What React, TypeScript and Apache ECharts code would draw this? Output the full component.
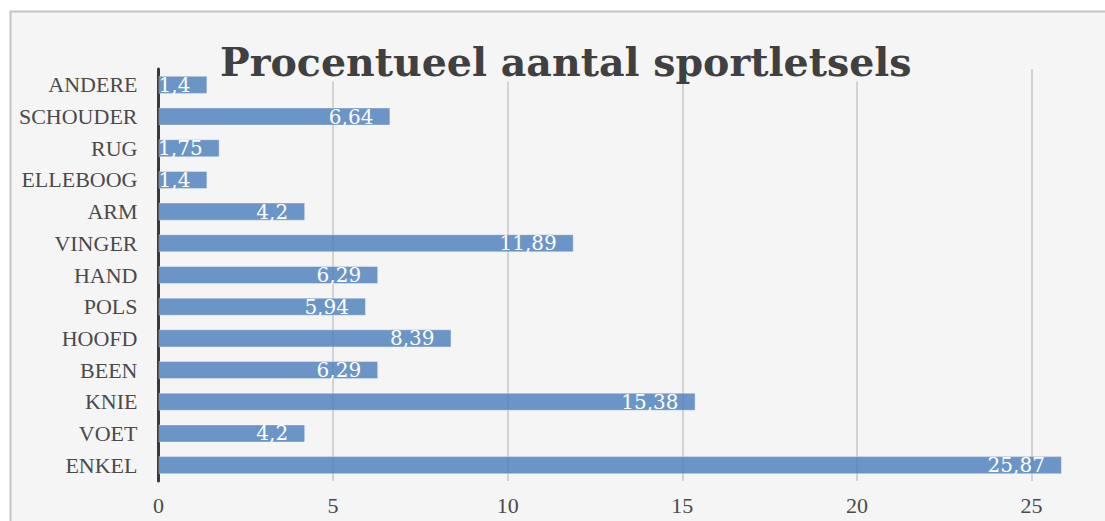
import React, { useEffect, useRef } from "react";
import * as echarts from "echarts";

const categories = ["ENKEL", "VOET", "KNIE", "BEEN", "HOOFD", "POLS", "HAND", "VINGER", "ARM", "ELLEBOOG", "RUG", "SCHOUDER", "ANDERE"];
const values = [25.87, 4.2, 15.38, 6.29, 8.39, 5.94, 6.29, 11.89, 4.2, 1.4, 1.75, 6.64, 1.4];
const axisMin = 0;
const axisMax = 30;
const axisStep = 5;
const titleText = "Procentueel aantal sportletsels";

const FONT = "'Liberation Serif', 'DejaVu Serif', serif";
const FONT2 = "'DejaVu Serif', 'Liberation Serif', serif";

export default function App() {
  const ref = useRef<HTMLDivElement>(null);
  useEffect(() => {
    const chart = echarts.init(ref.current!, null, { renderer: "svg" });
    const unit = 34.92;
    chart.setOption({
      animation: false,
      backgroundColor: "#ffffff",
      title: {
        text: titleText,
        left: 220,
        top: 44,
        padding: 0,
        backgroundColor: "#f5f5f5",
        textStyle: {
          fontFamily: FONT2,
          fontWeight: "bold",
          fontSize: 39.5,
          lineHeight: 35,
          color: "#404040",
        },
        z: 10,
      },
      graphic: [
        {
          type: "rect",
          z: -10,
          silent: true,
          shape: { x: 10.5, y: 11.5, width: 1200, height: 600 },
          style: { fill: "#f5f5f5", stroke: "#c4c4c4", lineWidth: 2 },
        },
      ],
      grid: {
        left: 158.5,
        top: 69,
        height: 412,
        width: (axisMax - axisMin) * unit,
        containLabel: false,
        outerBoundsMode: "none",
      },
      xAxis: {
        type: "value",
        min: axisMin,
        max: axisMax,
        interval: axisStep,
        axisLine: { show: false },
        axisTick: { show: false },
        splitLine: { show: true, lineStyle: { color: "#c6c6c6", width: 1.5 } },
        axisLabel: {
          margin: 13,
          showMaxLabel: false,
          fontFamily: FONT,
          fontSize: 22,
          lineHeight: 22,
          color: "#4a4a4a",
        },
      },
      yAxis: {
        type: "category",
        data: categories,
        axisLine: { show: true, lineStyle: { color: "#3a3a3a", width: 3 } },
        axisTick: { show: false },
        splitLine: { show: false },
        axisLabel: {
          margin: 21,
          fontFamily: FONT,
          fontSize: 22,
          color: "#4a4a4a",
        },
      },
      series: [
        {
          type: "bar",
          data: values,
          barWidth: "57%",
          itemStyle: {
            color: "rgba(79,129,189,0.83)",
            borderColor: "rgba(255,255,255,0.35)",
            borderWidth: 1,
          },
          label: {
            show: true,
            position: "insideRight",
            distance: 17,
            fontFamily: FONT2,
            fontSize: 20,
            color: "#ffffff",
            formatter: (p: any) => String(p.value).replace(".", ","),
          },
          z: 3,
        },
      ],
    });
    return () => chart.dispose();
  }, []);
  return (
    <div
      ref={ref}
      style={{ position: "fixed", left: 0, top: 0, width: 1105, height: 521 }}
    />
  );
}
